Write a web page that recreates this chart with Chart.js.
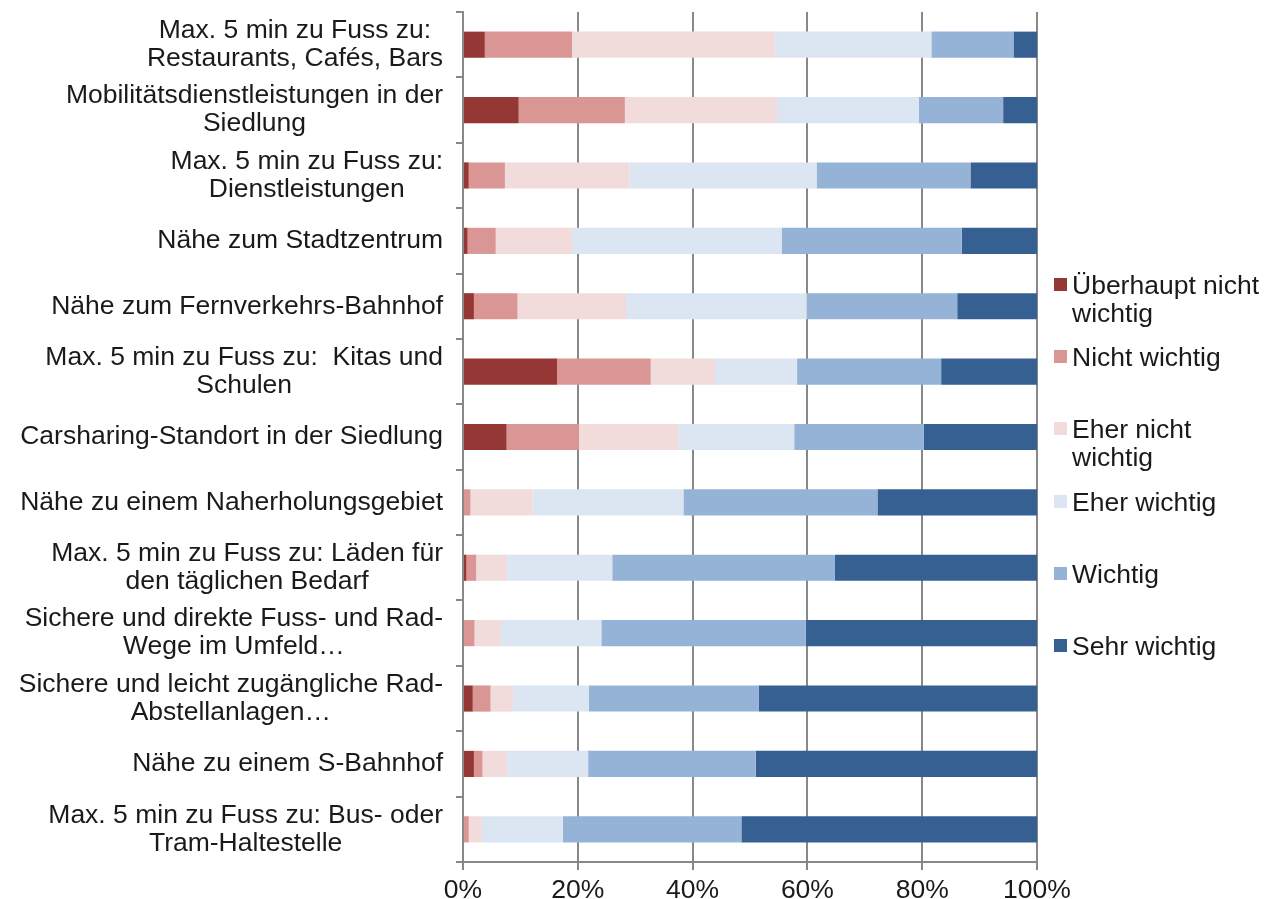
<!DOCTYPE html>
<html lang="de">
  <head>
    <meta charset="UTF-8" />
    <title>Wichtigkeit von Standortfaktoren</title>
    <style>
      body {
        margin: 0;
        padding: 0;
        background: #ffffff;
        font-family: "Liberation Sans", Arial, sans-serif;
      }
      .wrap {
        position: relative;
        width: 1276px;
        height: 899px;
      }
      #stackChart {
        position: absolute;
        left: 0;
        top: 0;
      }
      .legend-item {
        position: absolute;
        left: 1054px;
        font-size: 26.5px;
        line-height: 28px;
        color: #1a1a1a;
        padding-left: 18px;
        white-space: nowrap;
      }
      .legend-item .swatch {
        position: absolute;
        left: 0;
        top: 7px;
        width: 13px;
        height: 13px;
      }
    </style>
    <script src="https://cdn.jsdelivr.net/npm/chart.js"></script>
  </head>
  <body>
    <div class="wrap" id="wrap">
      <canvas id="stackChart" width="1276" height="899"></canvas>
    </div>
    <script>
      // categories, top to bottom
      const categories = [
        ["Max. 5 min zu Fuss zu:", "Restaurants, Cafés, Bars"],
        ["Mobilitätsdienstleistungen in der", "Siedlung"],
        ["Max. 5 min zu Fuss zu:", "Dienstleistungen"],
        ["Nähe zum Stadtzentrum"],
        ["Nähe zum Fernverkehrs-Bahnhof"],
        ["Max. 5 min zu Fuss zu:  Kitas und", "Schulen"],
        ["Carsharing-Standort in der Siedlung"],
        ["Nähe zu einem Naherholungsgebiet"],
        ["Max. 5 min zu Fuss zu: Läden für", "den täglichen Bedarf"],
        ["Sichere und direkte Fuss- und Rad-", "Wege im Umfeld…"],
        ["Sichere und leicht zugängliche Rad-", "Abstellanlagen…"],
        ["Nähe zu einem S-Bahnhof"],
        ["Max. 5 min zu Fuss zu: Bus- oder", "Tram-Haltestelle"],
      ];

      // shares in percent
      const ueberhauptNicht = [3.8, 9.7, 1.0, 0.8, 1.9, 16.4, 7.6, 0, 0.6, 0, 1.7, 1.9, 0];
      const nichtWichtig = [15.2, 18.5, 6.3, 4.9, 7.6, 16.3, 12.6, 1.3, 1.7, 2.0, 3.1, 1.5, 1.0];
      const eherNicht = [35.3, 26.5, 21.7, 13.3, 18.9, 11.2, 17.3, 10.8, 5.4, 4.6, 3.9, 4.3, 2.3];
      const eherWichtig = [27.3, 24.7, 32.6, 36.5, 31.5, 14.3, 20.2, 26.3, 18.3, 17.5, 13.2, 14.1, 14.1];
      const wichtig = [14.3, 14.7, 26.8, 31.4, 26.2, 25.1, 22.6, 33.8, 38.8, 35.6, 29.6, 29.2, 31.1];
      const sehrWichtig = [4.1, 5.9, 11.6, 13.1, 13.9, 16.7, 19.7, 27.8, 35.2, 40.3, 48.5, 49.0, 51.5];

      const seriesNames = [
        ["Überhaupt nicht", "wichtig"],
        ["Nicht wichtig"],
        ["Eher nicht", "wichtig"],
        ["Eher wichtig"],
        ["Wichtig"],
        ["Sehr wichtig"],
      ];
      const seriesValues = [ueberhauptNicht, nichtWichtig, eherNicht, eherWichtig, wichtig, sehrWichtig];
      const seriesColors = ["#953735", "#D99694", "#F2DCDB", "#DCE6F2", "#95B3D7", "#376092"];

      const xTicks = [0, 20, 40, 60, 80, 100];

      const FONT = '"Liberation Sans", Arial, sans-serif';
      const TEXT = "#1a1a1a";
      const GRID = "#888888";

      // draws the multi-line category labels: block right aligned, lines centred
      const categoryLabels = {
        id: "categoryLabels",
        afterDraw(chart) {
          const ctx = chart.ctx;
          const y = chart.scales.y;
          const right = y.right - 20;
          const lh = 28;
          ctx.save();
          ctx.font = "26.5px " + FONT;
          ctx.fillStyle = TEXT;
          ctx.textAlign = "center";
          ctx.textBaseline = "middle";
          categories.forEach((lines, i) => {
            const cy = y.getPixelForValue(i);
            const w = Math.max(...lines.map((l) => ctx.measureText(l).width));
            const cx = right - w / 2;
            lines.forEach((l, k) => {
              ctx.fillText(l, cx, cy + (k - (lines.length - 1) / 2) * lh);
            });
          });
          ctx.restore();
        },
      };

      const ctx = document.getElementById("stackChart").getContext("2d");
      const chart = new Chart(ctx, {
        type: "bar",
        data: {
          labels: categories.map((c) => c.join(" ")),
          datasets: seriesValues.map((vals, i) => ({
            label: seriesNames[i].join(" "),
            data: vals,
            backgroundColor: seriesColors[i],
            borderWidth: 0,
            barPercentage: 0.4,
            categoryPercentage: 1,
          })),
        },
        options: {
          indexAxis: "y",
          responsive: false,
          animation: false,
          layout: { padding: { top: 12, right: 239, bottom: 0, left: 0 } },
          plugins: {
            legend: { display: false },
            tooltip: { enabled: false },
          },
          scales: {
            x: {
              stacked: true,
              min: 0,
              max: 100,
              afterBuildTicks: (scale) => {
                scale.ticks = xTicks.map((v) => ({ value: v }));
              },
              ticks: {
                color: TEXT,
                font: { family: FONT, size: 26.5, lineHeight: 1 },
                padding: 7,
                callback: (v) => v + "%",
              },
              grid: { color: GRID, lineWidth: 2, tickLength: 8 },
              border: { color: GRID, width: 2 },
              afterFit: (scale) => {
                scale.height = 37;
              },
            },
            y: {
              stacked: true,
              ticks: { display: false },
              grid: { drawOnChartArea: false, color: GRID, lineWidth: 2, tickLength: 7, offset: true },
              border: { color: GRID, width: 2 },
              afterFit: (scale) => {
                scale.width = 463;
              },
            },
          },
        },
        plugins: [categoryLabels],
      });

      // legend on the right
      const wrap = document.getElementById("wrap");
      seriesNames.forEach((lines, i) => {
        const item = document.createElement("div");
        item.className = "legend-item";
        item.style.top = 271 + i * 72.2 + "px";
        const sw = document.createElement("span");
        sw.className = "swatch";
        sw.style.background = seriesColors[i];
        item.appendChild(sw);
        item.insertAdjacentHTML("beforeend", lines.join("<br>"));
        wrap.appendChild(item);
      });
    </script>
  </body>
</html>
